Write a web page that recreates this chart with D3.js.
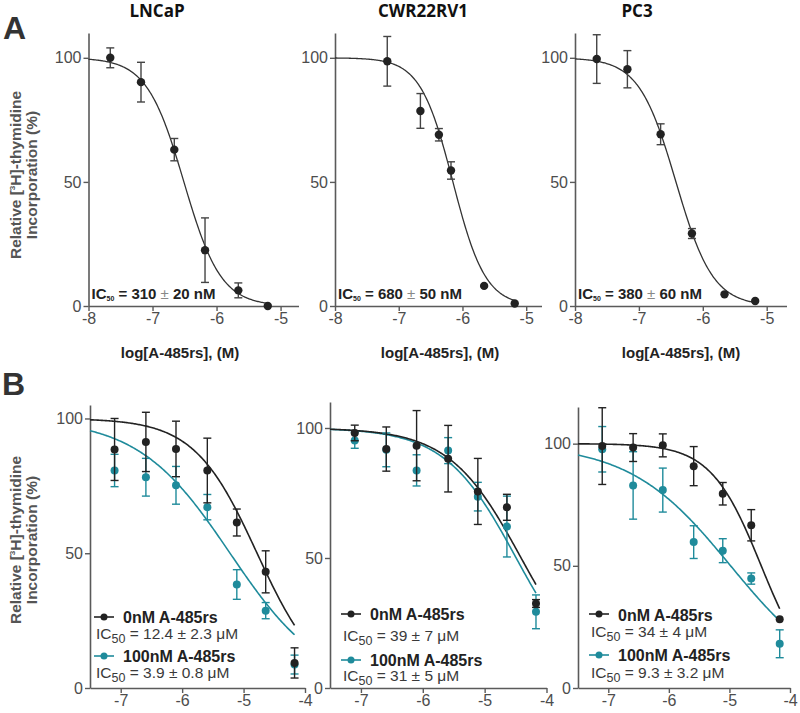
<!DOCTYPE html>
<html><head><meta charset="utf-8">
<script src="https://cdn.jsdelivr.net/npm/d3@7"></script>
<style>body{margin:0;background:#fff}svg{display:block}</style>
</head><body>
<svg id="c" width="800" height="713"></svg>
<script>
// ---------------- DATA ----------------
const titlesA = ["LNCaP", "CWR22RV1", "PC3"];
// Panel A: log[A-485rs] (M), relative incorporation (%), SEM
const aX_LNCaP = [-7.66, -7.18, -6.66, -6.18, -5.66, -5.2];
const aY_LNCaP = [100, 90.2, 63, 22.5, 6.3, 0];
const aErr_LNCaP = [4, 8, 4.5, 13, 3, 0];
const aX_CWR = [-7.18, -6.66, -6.37, -6.18, -5.66, -5.18];
const aY_CWR = [98.6, 78.6, 69, 54.6, 8.1, 1];
const aErr_CWR = [10, 7, 2.5, 3.5, 0, 0];
const aX_PC3 = [-7.66, -7.18, -6.66, -6.17, -5.66, -5.18];
const aY_PC3 = [99.5, 95.4, 69.2, 29.2, 4.7, 2];
const aErr_PC3 = [9.8, 7.5, 4.2, 2, 0, 0];
const aFitLogIC50 = [-6.51, -6.15, -6.42];
const aFitHill = [1.5, 1.7, 1.5];
const aIC50Value = ["310", "680", "380"];
const aIC50Sem = ["20", "50", "60"];
const aXTicks = [-8, -7, -6, -5];

// Panel B: two conditions (0 nM and 100 nM A-485rs)
const bLogConc = [-7.1, -6.59, -6.1, -5.59, -5.11, -4.64, -4.17];
const b0_LNCaP = [88.5, 91.3, 88.7, 80.7, 61.4, 43.1, 9.3];
const b0Err_LNCaP = [11.5, 11, 10.3, 12, 5, 7.8, 5.6];
const b100_LNCaP = [80.7, 78.2, 75.2, 67.1, 38.4, 28.7, 8.7];
const b100Err_LNCaP = [6, 7, 7, 4.7, 5.5, 3, 3.5];
const b0_CWR = [98.1, 91.9, 93.2, 88.2, 75.6, 69.5, 32.5];
const b0Err_CWR = [3, 8.5, 13.5, 12.8, 12.7, 5, 1.5];
const b100_CWR = [95.2, 91.6, 83.7, 91.3, 73.6, 62.1, 29.3];
const b100Err_CWR = [3, 6.5, 6, 5, 5.5, 11.7, 6.5];
const b0_PC3 = [99, 98.4, 99.3, 90.8, 79.5, 66.6, 28.1];
const b0Err_PC3 = [15.7, 5.7, 4.7, 8, 4.6, 6.4, 0];
const b100_PC3 = [97.7, 82.9, 81, 59.7, 56.2, 44.8, 18.1];
const b100Err_PC3 = [9.3, 13.8, 9, 6.7, 4.9, 2.3, 5.7];
const b0FitLogIC50 = [-4.78, -4.41, -4.475];
const b0FitHill = [0.85, 0.75, 1.045];
const b100FitLogIC50 = [-5.22, -4.49, -4.98];
const b100FitHill = [0.58, 0.754, 0.52];
const b0IC50Text = ["12.4 \u00b1 2.3", "39 \u00b1 7", "34 \u00b1 4"];
const b100IC50Text = ["3.9 \u00b1 0.8", "31 \u00b1 5", "9.3 \u00b1 3.2"];
const legendNames = ["0nM A-485rs", "100nM A-485rs"];
const bXTicks = [-7, -6, -5, -4];
const yTicks = [0, 50, 100];

// ---------------- STYLE / LAYOUT ----------------
const FONT = "'Liberation Sans', Arial, sans-serif";
const AXIS = "#5a5a5a";
const DARK = "#222";
const TEAL = "#1f8b9b";
const svg = d3.select("#c");

const aPanels = [
  {x0: 88.5, x1: 298.5, xd: [-8, -4.72], xs: aX_LNCaP, ys: aY_LNCaP, es: aErr_LNCaP, tx: 157, lx: 180},
  {x0: 335, x1: 541.5, xd: [-8, -4.76], xs: aX_CWR, ys: aY_CWR, es: aErr_CWR, tx: 423, lx: 440},
  {x0: 575, x1: 786.5, xd: [-8, -4.69], xs: aX_PC3, ys: aY_PC3, es: aErr_PC3, tx: 637, lx: 681}
];
const bPanels = [
  {x0: 90, x1: 305, ytop: 405, ymax: 105, d0: b0_LNCaP, e0: b0Err_LNCaP, d1: b100_LNCaP, e1: b100Err_LNCaP,
   leg: {lx: 94, ly0: 617, b0: 622.5, ic0: 638.5, ly1: 656, b1: 661.5, ic1: 677.5}},
  {x0: 330, x1: 546.5, ytop: 402, ymax: 110, d0: b0_CWR, e0: b0Err_CWR, d1: b100_CWR, e1: b100Err_CWR,
   leg: {lx: 341, ly0: 614, b0: 620, ic0: 641, ly1: 660, b1: 665.5, ic1: 681}},
  {x0: 578, x1: 790, ytop: 407, ymax: 115, d0: b0_PC3, e0: b0Err_PC3, d1: b100_PC3, e1: b100Err_PC3,
   leg: {lx: 589, ly0: 614, b0: 621, ic0: 637, ly1: 655, b1: 661, ic1: 677.5}}
];

function hill(logIC50, h) { return x => 100 / (1 + Math.pow(10, h * (x - logIC50))); }

function styleAxis(g) {
  g.select(".domain").attr("stroke", AXIS).attr("stroke-width", 1.6);
  g.selectAll(".tick line").attr("stroke", AXIS).attr("stroke-width", 1.4);
  g.selectAll(".tick text").attr("fill", "#4d4d4d").attr("font-family", FONT).attr("font-size", 16);
}

function errorBars(g, data, x, y, color, cap) {
  const eb = g.append("g").attr("stroke", color).attr("stroke-width", 1.4).attr("fill", "none");
  data.filter(d => d.e > 0).forEach(d => {
    const cx = x(d.x), yt = y(d.y + d.e), yb = y(d.y - d.e);
    eb.append("line").attr("x1", cx).attr("x2", cx).attr("y1", yt).attr("y2", yb);
    eb.append("line").attr("x1", cx - cap).attr("x2", cx + cap).attr("y1", yt).attr("y2", yt);
    eb.append("line").attr("x1", cx - cap).attr("x2", cx + cap).attr("y1", yb).attr("y2", yb);
  });
}

function yLabel(cx, cy) {
  const t = svg.append("text").attr("transform", `translate(${cx},${cy}) rotate(-90)`)
    .attr("text-anchor", "middle").attr("font-family", FONT).attr("font-weight", "bold")
    .attr("font-size", 15.5).attr("fill", "#555");
  const l1 = t.append("tspan").attr("x", 0).attr("y", 0);
  l1.append("tspan").text("Relative [");
  l1.append("tspan").attr("font-size", 8).attr("dy", -6).text("3");
  l1.append("tspan").attr("dy", 6).text("H]-thymidine");
  t.append("tspan").attr("x", 0).attr("y", 15.5).text("Incorporation (%)");
}

function fixMinus(g) {
  g.selectAll(".tick text").each(function() { this.textContent = this.textContent.replace("\u2212", "-"); });
}

// Panel letters
svg.append("text").attr("x", 3).attr("y", 39).attr("font-family", FONT).attr("font-weight", "bold")
  .attr("font-size", 32).attr("fill", "#333").text("A");
svg.append("text").attr("x", 2).attr("y", 395).attr("font-family", FONT).attr("font-weight", "bold")
  .attr("font-size", 32).attr("fill", "#333").text("B");

// ---------------- PANEL A ----------------
const aYTop = 33, aYBot = 306;
aPanels.forEach((p, i) => {
  const g = svg.append("g");
  const x = d3.scaleLinear().domain(p.xd).range([p.x0, p.x1]);
  const y = d3.scaleLinear().domain([0, 110]).range([aYBot, aYTop]);
  g.append("g").attr("transform", `translate(0,${aYBot})`)
    .call(d3.axisBottom(x).tickValues(aXTicks).tickFormat(d3.format("d")).tickSize(5).tickPadding(2).tickSizeOuter(0))
    .call(styleAxis);
  g.append("g").attr("transform", `translate(${p.x0},0)`)
    .call(d3.axisLeft(y).tickValues(yTicks).tickSize(5).tickPadding(2).tickSizeOuter(0))
    .call(styleAxis);
  fixMinus(g);

  const data = p.xs.map((v, k) => ({x: v, y: p.ys[k], e: p.es[k]}));
  const f = hill(aFitLogIC50[i], aFitHill[i]);
  const cd = d3.range(0, 201).map(k => {
    const xv = p.xd[0] + (data[data.length - 1].x - p.xd[0]) * k / 200;
    return [xv, f(xv)];
  });
  g.append("path").datum(cd).attr("fill", "none").attr("stroke", "#333").attr("stroke-width", 1.3)
    .attr("d", d3.line().x(d => x(d[0])).y(d => y(d[1])));
  errorBars(g, data, x, y, "#444", 4);
  g.selectAll("circle.pt").data(data).join("circle").attr("class", "pt")
    .attr("cx", d => x(d.x)).attr("cy", d => y(d.y)).attr("r", 4.2).attr("fill", DARK);

  svg.append("text").attr("x", p.tx).attr("y", 17).attr("text-anchor", "middle")
    .attr("font-family", "'Open Sans', sans-serif").attr("font-weight", 700).attr("font-size", 17)
    .attr("fill", "#111").text(titlesA[i]);
  svg.append("text").attr("x", p.lx).attr("y", 358).attr("text-anchor", "middle")
    .attr("font-family", FONT).attr("font-weight", "bold").attr("font-size", 15).attr("fill", DARK)
    .text("log[A-485rs], (M)");
  const t = g.append("text").attr("x", p.x0 + 3).attr("y", 298.5).attr("font-family", FONT)
    .attr("font-weight", "bold").attr("font-size", 15).attr("fill", DARK);
  t.append("tspan").text("IC");
  t.append("tspan").attr("font-size", 7).attr("dy", 2).text("50");
  t.append("tspan").attr("dy", -2).text(" = " + aIC50Value[i] + " ");
  t.append("tspan").attr("font-weight", "normal").attr("fill", "#888").text("\u00b1");
  t.append("tspan").text(" " + aIC50Sem[i] + " nM");
});
yLabel(21, 175);

// ---------------- PANEL B ----------------
const bYBot = 688;
bPanels.forEach((p, i) => {
  const g = svg.append("g");
  const x = d3.scaleLinear().domain([-7.5, -4]).range([p.x0, p.x1]);
  const y = d3.scaleLinear().domain([0, p.ymax]).range([bYBot, p.ytop]);
  g.append("g").attr("transform", `translate(0,${bYBot})`)
    .call(d3.axisBottom(x).tickValues(bXTicks).tickFormat(d3.format("d")).tickSize(5).tickPadding(2).tickSizeOuter(0))
    .call(styleAxis);
  g.append("g").attr("transform", `translate(${p.x0},0)`)
    .call(d3.axisLeft(y).tickValues(yTicks).tickSize(5).tickPadding(2).tickSizeOuter(0))
    .call(styleAxis);
  fixMinus(g);

  const series = [
    {d: p.d1, e: p.e1, c: TEAL, f: hill(b100FitLogIC50[i], b100FitHill[i])},
    {d: p.d0, e: p.e0, c: DARK, f: hill(b0FitLogIC50[i], b0FitHill[i])}
  ];
  const lastX = bLogConc[bLogConc.length - 1];
  series.forEach(s => {
    const cd = d3.range(0, 201).map(k => { const xv = -7.5 + (lastX + 7.5) * k / 200; return [xv, s.f(xv)]; });
    g.append("path").datum(cd).attr("fill", "none").attr("stroke", s.c).attr("stroke-width", 1.6)
      .attr("d", d3.line().x(d => x(d[0])).y(d => y(d[1])));
  });
  series.forEach(s => {
    const data = bLogConc.map((v, k) => ({x: v, y: s.d[k], e: s.e[k]}));
    errorBars(g, data, x, y, s.c, 4);
    g.append("g").selectAll("circle").data(data).join("circle")
      .attr("cx", d => x(d.x)).attr("cy", d => y(d.y)).attr("r", 4).attr("fill", s.c);
  });

  const L = p.leg;
  [[DARK, L.ly0, L.b0, legendNames[0], L.ic0, b0IC50Text[i]], [TEAL, L.ly1, L.b1, legendNames[1], L.ic1, b100IC50Text[i]]]
  .forEach(([c, ly, bl, name, icy, ict]) => {
    g.append("line").attr("x1", L.lx).attr("x2", L.lx + 20).attr("y1", ly).attr("y2", ly)
      .attr("stroke", c).attr("stroke-width", 1.6);
    g.append("circle").attr("cx", L.lx + 10).attr("cy", ly).attr("r", 3.5).attr("fill", c);
    g.append("text").attr("x", L.lx + 29).attr("y", bl).attr("font-family", FONT).attr("font-weight", "bold")
      .attr("font-size", 16).attr("fill", DARK).text(name);
    const t = g.append("text").attr("x", L.lx + 2).attr("y", icy).attr("font-family", FONT)
      .attr("font-size", 15.5).attr("fill", "#3a3a3a");
    t.append("tspan").text("IC");
    t.append("tspan").attr("font-size", 12.5).attr("dy", 4).text("50");
    t.append("tspan").attr("dy", -4).text(" = " + ict + " \u03bcM");
  });
});
yLabel(21, 540);
</script>
</body></html>
